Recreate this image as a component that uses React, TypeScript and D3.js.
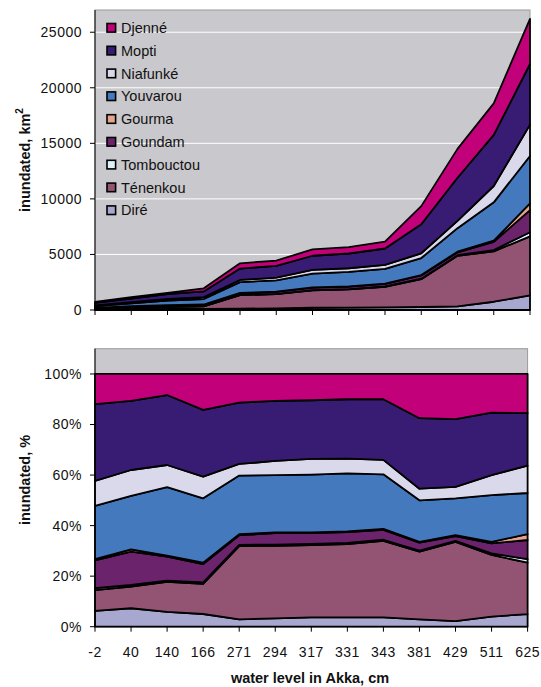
import React from "react";
import * as d3 from "d3";

const categories = ["-2", "40", "140", "166", "271", "294", "317", "331", "343", "381", "429", "511", "625"];
const dire = [45, 84, 91, 98, 122, 147, 202, 209, 228, 271, 319, 744, 1310];
const tenenkou = [59, 98, 184, 232, 1218, 1277, 1559, 1639, 1863, 2506, 4553, 4538, 5320];
const tombouctou = [6, 8, 8, 12, 21, 22, 27, 28, 25, 37, 58, 112, 367];
const goundam = [79, 152, 146, 142, 160, 200, 229, 237, 240, 299, 261, 744, 1990];
const gourma = [3, 10, 6, 10, 17, 13, 16, 17, 25, 28, 58, 112, 600];
const youvarou = [152, 243, 420, 497, 974, 1010, 1248, 1300, 1328, 1533, 2117, 3441, 4270];
const niafunke = [71, 118, 136, 168, 193, 249, 338, 328, 351, 430, 653, 1469, 2830];
const mopti = [218, 315, 429, 515, 1021, 1059, 1264, 1328, 1476, 2609, 3886, 4594, 5450];
const djenne = [86, 122, 129, 277, 475, 472, 567, 565, 615, 1636, 2596, 2846, 4060];

const seriesNames = ["Diré", "Ténenkou", "Tombouctou", "Goundam", "Gourma", "Youvarou", "Niafunké", "Mopti", "Djenné"];
const seriesValues = [dire, tenenkou, tombouctou, goundam, gourma, youvarou, niafunke, mopti, djenne];
const seriesColors = ["#A7A7CF", "#925472", "#DDF1F8", "#6B236C", "#E7A38E", "#4579BD", "#D9D9EB", "#381C73", "#C20079"];

const topTicks = [0, 5000, 10000, 15000, 20000, 25000];
const pctTicks = [0, 0.2, 0.4, 0.6, 0.8, 1.0];

const FONT = "'Liberation Sans', Arial, sans-serif";
const BG = "#C9C8CC";

type Row = { [k: string]: number | string };

const rows: Row[] = categories.map((c, i) => {
  const r: Row = { cat: c };
  seriesNames.forEach((n, j) => (r[n] = seriesValues[j][i]));
  return r;
});

function Chart({
  top, bottom, left, right, yMax, ticks, offset, fmt, showXLabels,
}: {
  top: number; bottom: number; left: number; right: number; yMax: number;
  ticks: number[]; offset: any; fmt: (v: number) => string; showXLabels: boolean;
}) {
  const x = d3.scalePoint<string>().domain(categories).range([left, right]);
  const y = d3.scaleLinear().domain([0, yMax]).range([bottom, top]);
  const stack = d3.stack<Row>().keys(seriesNames).value((d, k) => d[k] as number).offset(offset);
  const layers = stack(rows);
  const area = d3
    .area<any>()
    .x((d) => x(d.data.cat as string) as number)
    .y0((d) => y(d[0]))
    .y1((d) => y(d[1]));
  return (
    <g>
      <rect x={left} y={top} width={right - left} height={bottom - top} fill={BG} stroke="#9a9a9a" strokeWidth={1} />
      {ticks.map((t) => (
        <line key={"g" + t} x1={left} x2={right} y1={y(t)} y2={y(t)} stroke="#ffffff" strokeWidth={1} />
      ))}
      {layers.map((l, i) => (
        <path key={seriesNames[i]} d={area(l as any) as string} fill={seriesColors[i]} stroke="#000" strokeWidth={1.8} strokeLinejoin="round" />
      ))}
      <line x1={left} x2={left} y1={top} y2={bottom} stroke="#000" strokeWidth={1} />
      <line x1={left} x2={right} y1={bottom} y2={bottom} stroke="#000" strokeWidth={1} />
      {ticks.map((t) => (
        <g key={"t" + t}>
          <line x1={left - 5} x2={left} y1={y(t)} y2={y(t)} stroke="#000" />
          <text x={left - 13} y={y(t)} dy="0.35em" textAnchor="end" fontSize={14} fontFamily={FONT} fill="#111" letterSpacing={0.5}>
            {fmt(t)}
          </text>
        </g>
      ))}
      {categories.map((c) => (
        <g key={"x" + c}>
          <line x1={x(c)} x2={x(c)} y1={bottom} y2={bottom + 5} stroke="#000" />
          {showXLabels && (
            <text x={x(c)} y={bottom + 30} textAnchor="middle" fontSize={14} fontFamily={FONT} fill="#111" letterSpacing={0.5}>
              {c}
            </text>
          )}
        </g>
      ))}
    </g>
  );
}

export default function App() {
  const legendOrder = [...seriesNames].reverse();
  return (
    <div style={{ position: "absolute", left: 0, top: 0 }}>
      <svg width={541} height={687} style={{ display: "block", background: "#fff" }}>
        <Chart top={10} bottom={310} left={95} right={530} yMax={27000} ticks={topTicks} offset={d3.stackOffsetNone} fmt={(v) => String(v)} showXLabels={false} />
        <Chart top={348.7} bottom={626.7} left={95} right={527.6} yMax={1.1} ticks={pctTicks} offset={d3.stackOffsetExpand} fmt={(v) => Math.round(v * 100) + "%"} showXLabels={true} />
        {legendOrder.map((n, i) => {
          const idx = seriesNames.indexOf(n);
          const cy = 27.8 + i * 22.8;
          return (
            <g key={"lg" + n}>
              <rect x={107} y={cy - 4.3} width={8.6} height={8.6} fill={seriesColors[idx]} stroke="#000" strokeWidth={1.6} />
              <text x={121} y={cy} dy="0.36em" fontSize={14.5} fontFamily={FONT} fill="#111">
                {n}
              </text>
            </g>
          );
        })}
        <text transform="translate(25,160) rotate(-90)" textAnchor="middle" dominantBaseline="central" fontSize={14.5} fontWeight="bold" fontFamily={FONT} fill="#111">
          inundated, km<tspan fontSize={10} dy={-6}>2</tspan>
        </text>
        <text transform="translate(25,480) rotate(-90)" textAnchor="middle" dominantBaseline="central" fontSize={14.5} fontWeight="bold" fontFamily={FONT} fill="#111">
          inundated, %
        </text>
        <text x={310} y={683} textAnchor="middle" fontSize={14.5} fontWeight="bold" fontFamily={FONT} fill="#111">
          water level in Akka, cm
        </text>
      </svg>
    </div>
  );
}
